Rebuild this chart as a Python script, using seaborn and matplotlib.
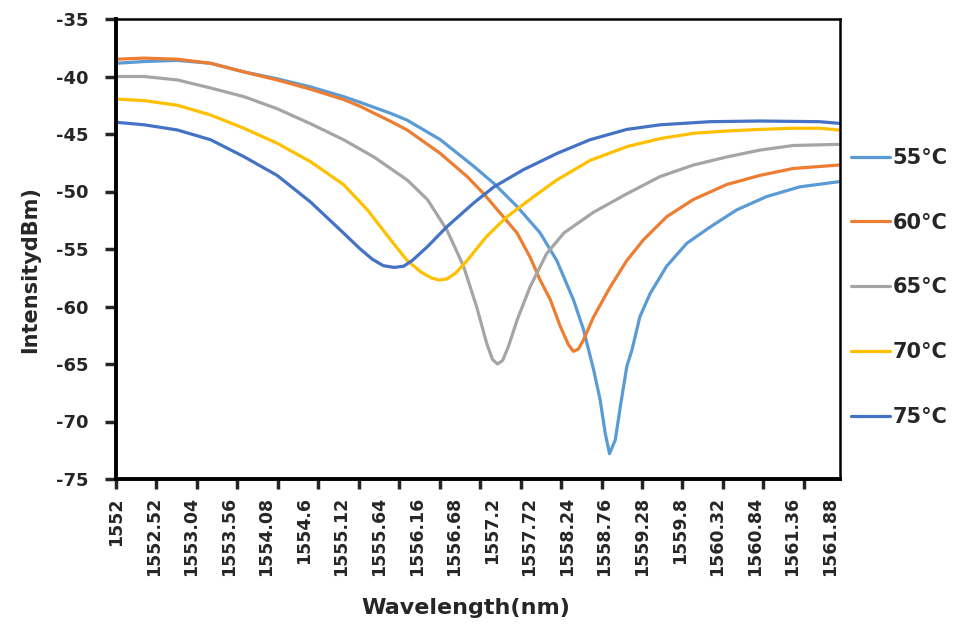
import numpy as np
import pandas as pd
import matplotlib
matplotlib.use('Agg')
import matplotlib.pyplot as plt
import seaborn as sns

# wavelength (nm) / intensity (dBm)
wl_55 = [1552.0, 1552.39, 1552.85, 1553.31, 1553.77, 1554.23, 1554.69, 1555.15, 1555.38, 1555.8,
         1556.03, 1556.49, 1556.95, 1557.23, 1557.55, 1557.87, 1558.10, 1558.33, 1558.47, 1558.61,
         1558.70, 1558.77, 1558.83, 1558.91, 1558.98, 1559.07, 1559.14, 1559.25, 1559.39, 1559.62,
         1559.90, 1560.22, 1560.59, 1561.00, 1561.46, 1562.0]
db_55 = [-38.85, -38.7, -38.6, -38.85, -39.6, -40.2, -40.9, -41.75, -42.25, -43.2,
         -43.8, -45.5, -47.8, -49.3, -51.3, -53.6, -56.0, -59.4, -62.0, -65.5,
         -68.1, -71.0, -72.8, -71.6, -68.7, -65.2, -63.8, -60.9, -58.9, -56.5,
         -54.5, -53.1, -51.6, -50.45, -49.6, -49.15]

wl_60 = [1552.0, 1552.39, 1552.85, 1553.31, 1553.77, 1554.23, 1554.69, 1555.15, 1555.38, 1555.8,
         1556.03, 1556.49, 1556.86, 1557.09, 1557.32, 1557.55, 1557.73, 1557.87, 1558.01, 1558.15,
         1558.26, 1558.33, 1558.40, 1558.47, 1558.61, 1558.84, 1559.07, 1559.30, 1559.62, 1559.99,
         1560.45, 1560.91, 1561.37, 1562.0]
db_60 = [-38.5, -38.4, -38.5, -38.85, -39.6, -40.3, -41.1, -42.0, -42.6, -43.9,
         -44.65, -46.7, -48.7, -50.2, -51.9, -53.6, -55.7, -57.7, -59.4, -61.75,
         -63.3, -63.9, -63.7, -62.9, -60.9, -58.3, -56.0, -54.2, -52.2, -50.7,
         -49.4, -48.6, -48.0, -47.7]

wl_65 = [1552.0, 1552.39, 1552.85, 1553.31, 1553.77, 1554.23, 1554.69, 1555.15, 1555.57, 1556.03,
         1556.31, 1556.58, 1556.81, 1556.99, 1557.13, 1557.21, 1557.28, 1557.35, 1557.43, 1557.55,
         1557.73, 1557.96, 1558.2, 1558.61, 1559.07, 1559.53, 1559.99, 1560.45, 1560.91, 1561.37,
         1562.0]
db_65 = [-40.0, -40.0, -40.3, -41.0, -41.75, -42.8, -44.1, -45.5, -47.0, -49.0,
         -50.7, -53.35, -56.5, -60.0, -63.2, -64.6, -65.0, -64.7, -63.5, -61.2,
         -58.3, -55.4, -53.6, -51.8, -50.2, -48.7, -47.7, -47.0, -46.4, -46.0,
         -45.9]

wl_70 = [1552.0, 1552.39, 1552.85, 1553.31, 1553.77, 1554.23, 1554.69, 1555.15, 1555.48, 1555.80,
         1556.03, 1556.22, 1556.36, 1556.47, 1556.58, 1556.70, 1556.86, 1557.13, 1557.41, 1557.78,
         1558.10, 1558.56, 1559.07, 1559.53, 1559.99, 1560.45, 1560.91, 1561.37, 1561.74, 1562.0]
db_70 = [-41.96, -42.1, -42.5, -43.35, -44.5, -45.8, -47.4, -49.4, -51.6, -54.2,
         -56.0, -57.0, -57.5, -57.7, -57.6, -57.1, -56.0, -53.9, -52.2, -50.45,
         -49.0, -47.3, -46.1, -45.4, -44.94, -44.74, -44.6, -44.5, -44.5, -44.65]

wl_75 = [1552.0, 1552.39, 1552.85, 1553.31, 1553.77, 1554.23, 1554.69, 1555.13, 1555.38, 1555.55,
         1555.70, 1555.85, 1555.98, 1556.10, 1556.31, 1556.58, 1556.95, 1557.23, 1557.64, 1558.10,
         1558.56, 1559.07, 1559.53, 1560.22, 1560.91, 1561.74, 1562.0]
db_75 = [-43.98, -44.2, -44.65, -45.5, -46.97, -48.6, -50.9, -53.5, -55.0, -55.9,
         -56.45, -56.6, -56.5, -56.0, -54.8, -53.06, -51.0, -49.6, -48.1, -46.7,
         -45.5, -44.6, -44.2, -43.93, -43.87, -43.93, -44.07]

temps = ['55°C', '60°C', '65°C', '70°C', '75°C']
colors = ['#5B9BD5', '#ED7D31', '#A5A5A5', '#FFC000', '#4472C4']

x_labels = ['1552', '1552.52', '1553.04', '1553.56', '1554.08', '1554.6', '1555.12', '1555.64',
            '1556.16', '1556.68', '1557.2', '1557.72', '1558.24', '1558.76', '1559.28', '1559.8',
            '1560.32', '1560.84', '1561.36', '1561.88']
y_ticks = [-75, -70, -65, -60, -55, -50, -45, -40, -35]

frames = []
for t, w, d in zip(temps, [wl_55, wl_60, wl_65, wl_70, wl_75], [db_55, db_60, db_65, db_70, db_75]):
    frames.append(pd.DataFrame({'Wavelength': w, 'Intensity': d, 'Temp': t}))
df = pd.concat(frames, ignore_index=True)

sns.set_style('white')
plt.rcParams['font.family'] = ['DejaVu Sans']
plt.rcParams['font.weight'] = 'bold'

fig = plt.figure(figsize=(9.56, 6.27), dpi=100)
ax = fig.add_axes([116 / 956, 1 - 479 / 627, 724 / 956, 460 / 627])

sns.lineplot(data=df, x='Wavelength', y='Intensity', hue='Temp', hue_order=temps,
             palette=colors, estimator=None, sort=True, linewidth=2.3, ax=ax)

ax.set_xlim(1552, 1562.02)
ax.set_ylim(-75, -35)

# tick marks every 0.56 nm, labels every 0.52 nm (like the excel category axis)
ax.xaxis.remove_overlapping_locs = False
ax.set_xticks([1552 + 0.56 * k for k in range(18)])
ax.set_xticklabels([])
ax.set_xticks([float(s) for s in x_labels], minor=True)
ax.set_xticklabels(x_labels, minor=True, rotation=90, fontsize=12.5, fontweight='bold')
ax.tick_params(axis='x', which='major', direction='out', length=7, width=2.5, bottom=True)
ax.tick_params(axis='x', which='minor', length=0, pad=13, bottom=True)

ax.set_yticks(y_ticks)
ax.set_yticklabels([str(v) for v in y_ticks], fontsize=13, fontweight='bold')
ax.tick_params(axis='y', direction='out', length=8, width=2.5, pad=12, left=True)

for side in ['left', 'bottom']:
    ax.spines[side].set_linewidth(2.8)
for side in ['top', 'right']:
    ax.spines[side].set_linewidth(1.8)
for s in ax.spines.values():
    s.set_color('black')

ax.set_xlabel('')
ax.set_ylabel('')
fig.text(466 / 956, 1 - 608 / 627, 'Wavelength(nm)', ha='center', va='center',
         fontsize=16, fontweight='bold')
fig.text(30 / 956, 1 - 270 / 627, 'IntensitydBm)', ha='center', va='center',
         rotation=90, fontsize=15, fontweight='bold')

ax.legend(loc='center left', bbox_to_anchor=(851 / 956, 1 - 287.5 / 627),
          bbox_transform=fig.transFigure, frameon=False,
          handlelength=1.85, handletextpad=0.15, labelspacing=2.15,
          borderpad=0, borderaxespad=0, prop={'weight': 'bold', 'size': 15})

fig.savefig('out.png', dpi=100)
